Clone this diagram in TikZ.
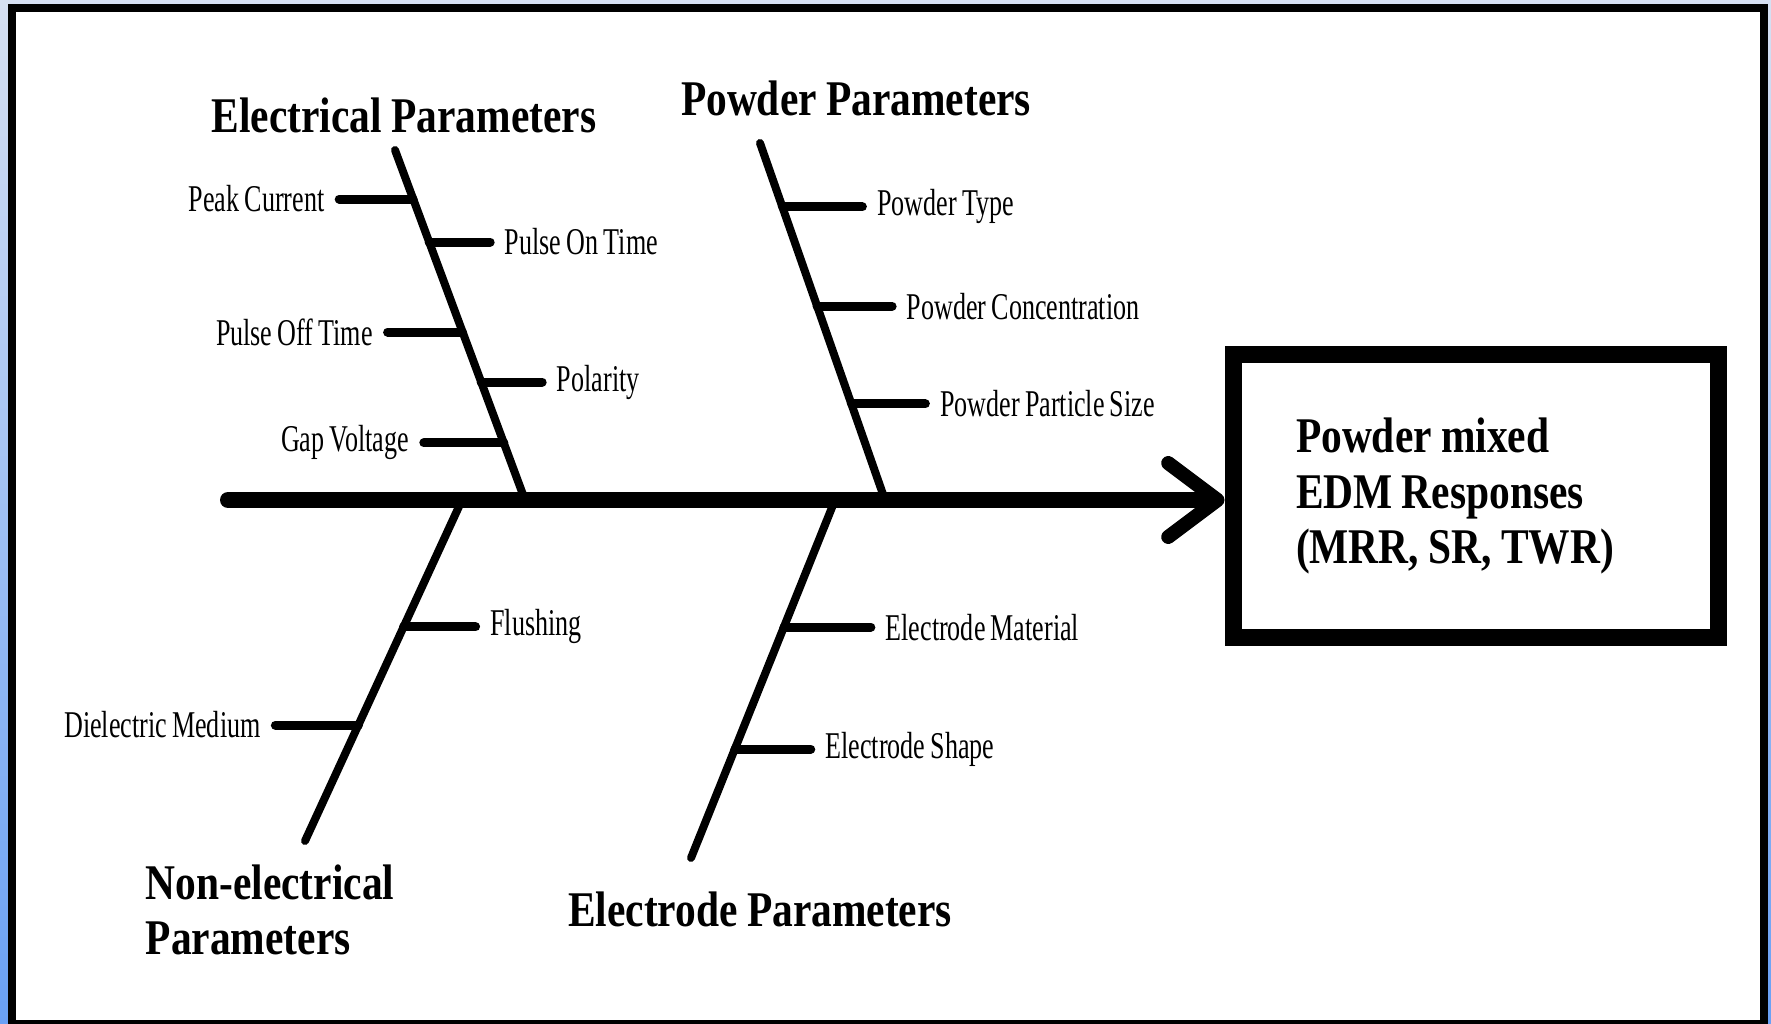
\documentclass[tikz,border=0pt]{standalone}
\usepackage{fontspec}
\setmainfont{Liberation Serif}
\newfontfamily\lblfont{Liberation Serif}[FakeStretch=0.69, WordSpace=0.8]
\newfontfamily\headfont{Liberation Serif}[FakeStretch=0.83, WordSpace=0.9]
\usetikzlibrary{arrows.meta,calc}
\newlength\px
\setlength\px{0.01cm}
\definecolor{bgtop}{RGB}{214,224,242}
\definecolor{bgbot}{RGB}{105,160,245}

\begin{document}
\begin{tikzpicture}[x=1\px, y=-1\px, line cap=round,
        spine/.style = {line width=16\px, -{Straight Barb[length=14pt, width=21pt, line width=4pt, round]}},
        bone/.style = {line width=8\px},
        rib/.style = {line width=9\px},
        lbl/.style = {inner sep=4pt, font=\lblfont\fontsize{10.75pt}{12pt}\selectfont},
        head/.style = {inner sep=0pt, align=left, font=\headfont\bfseries\fontsize{14.2pt}{15.6pt}\selectfont},
        resp/.style = {draw, line width=17\px, text width=359\px, inner xsep=63\px, minimum height=283\px, align=flush left,
                       font=\headfont\bfseries\fontsize{14.2pt}{15.7pt}\selectfont}]
        \useasboundingbox (0,0) rectangle (1771,1024);
        \shade[top color=bgtop, bottom color=bgbot] (0,0) rectangle (1771,1024);
        \draw[line width=8\px, fill=white] (12,8) rectangle (1764,1024);

        % headings
        \node[head, anchor=base] (1) at (404,133) {Electrical Parameters};
        \node[head, anchor=base] (2) at (856,116) {Powder Parameters};
        \node[head, anchor=west] (3) at (145,910) {Non-electrical\\Parameters};
        \node[head, anchor=base] (4) at (760,926) {Electrode Parameters};

        % effect box
        \node[resp] (5) at (1475.5,496) {Powder mixed\\EDM Responses\\(MRR, SR, TWR)};

        % bones
        \coordinate (etop) at (395,150);
        \coordinate (ebot) at (525,500);
        \coordinate (ptop) at (760,143);
        \coordinate (pbot) at (885,500);
        \coordinate (ntop) at (462,500);
        \coordinate (nbot) at (305,841);
        \coordinate (dtop) at (835,500);
        \coordinate (dbot) at (691,858);
        \draw[bone] (etop) -- (ebot);
        \draw[bone] (ptop) -- (pbot);
        \draw[bone] (ntop) -- (nbot);
        \draw[bone] (dtop) -- (dbot);

        % electrical
        \coordinate (e1) at ($(etop)!0.140!(ebot)$);
        \coordinate (e2) at ($(etop)!0.263!(ebot)$);
        \coordinate (e3) at ($(etop)!0.520!(ebot)$);
        \coordinate (e4) at ($(etop)!0.663!(ebot)$);
        \coordinate (e5) at ($(etop)!0.837!(ebot)$);
        \node[lbl, anchor=east] (6) at ($(e1)+(-74,0)$) {Peak Current};
        \node[lbl, anchor=west] (7) at ($(e2)+(61,0)$) {Pulse On Time};
        \node[lbl, anchor=east] (8) at ($(e3)+(-75,0)$) {Pulse Off Time};
        \node[lbl, anchor=west] (9) at ($(e4)+(61,0)$) {Polarity};
        \node[lbl, anchor=east] (10) at ($(e5)+(-80,0)$) {Gap Voltage};
        \draw[rib] (e1) -- (6);
        \draw[rib] (e2) -- (7);
        \draw[rib] (e3) -- (8);
        \draw[rib] (e4) -- (9);
        \draw[rib] (e5) -- (10);

        % powder
        \coordinate (p1) at ($(ptop)!0.179!(pbot)$);
        \coordinate (p2) at ($(ptop)!0.457!(pbot)$);
        \coordinate (p3) at ($(ptop)!0.731!(pbot)$);
        \node[lbl, anchor=west] (11) at ($(p1)+(80,0)$) {Powder Type};
        \node[lbl, anchor=west] (12) at ($(p2)+(75,0)$) {Powder Concentration};
        \node[lbl, anchor=west] (13) at ($(p3)+(74,0)$) {Powder Particle Size};
        \draw[rib] (p1) -- (11);
        \draw[rib] (p2) -- (12);
        \draw[rib] (p3) -- (13);

        % non-electrical
        \coordinate (n1) at ($(ntop)!0.372!(nbot)$);
        \coordinate (n2) at ($(ntop)!0.660!(nbot)$);
        \node[lbl, anchor=west] (14) at ($(n1)+(72,0)$) {Flushing};
        \node[lbl, anchor=east] (15) at ($(n2)+(-83,0)$) {Dielectric Medium};
        \draw[rib] (n1) -- (14);
        \draw[rib] (n2) -- (15);

        % electrode
        \coordinate (d1) at ($(dtop)!0.355!(dbot)$);
        \coordinate (d2) at ($(dtop)!0.696!(dbot)$);
        \node[lbl, anchor=west] (16) at ($(d1)+(87,0)$) {Electrode Material};
        \node[lbl, anchor=west] (17) at ($(d2)+(76,0)$) {Electrode Shape};
        \draw[rib] (d1) -- (16);
        \draw[rib] (d2) -- (17);

        % spine
        \coordinate (tail) at (228,500);
        \draw[spine] (tail) -- (tail -| 5.west);
    \end{tikzpicture}
\end{document}
